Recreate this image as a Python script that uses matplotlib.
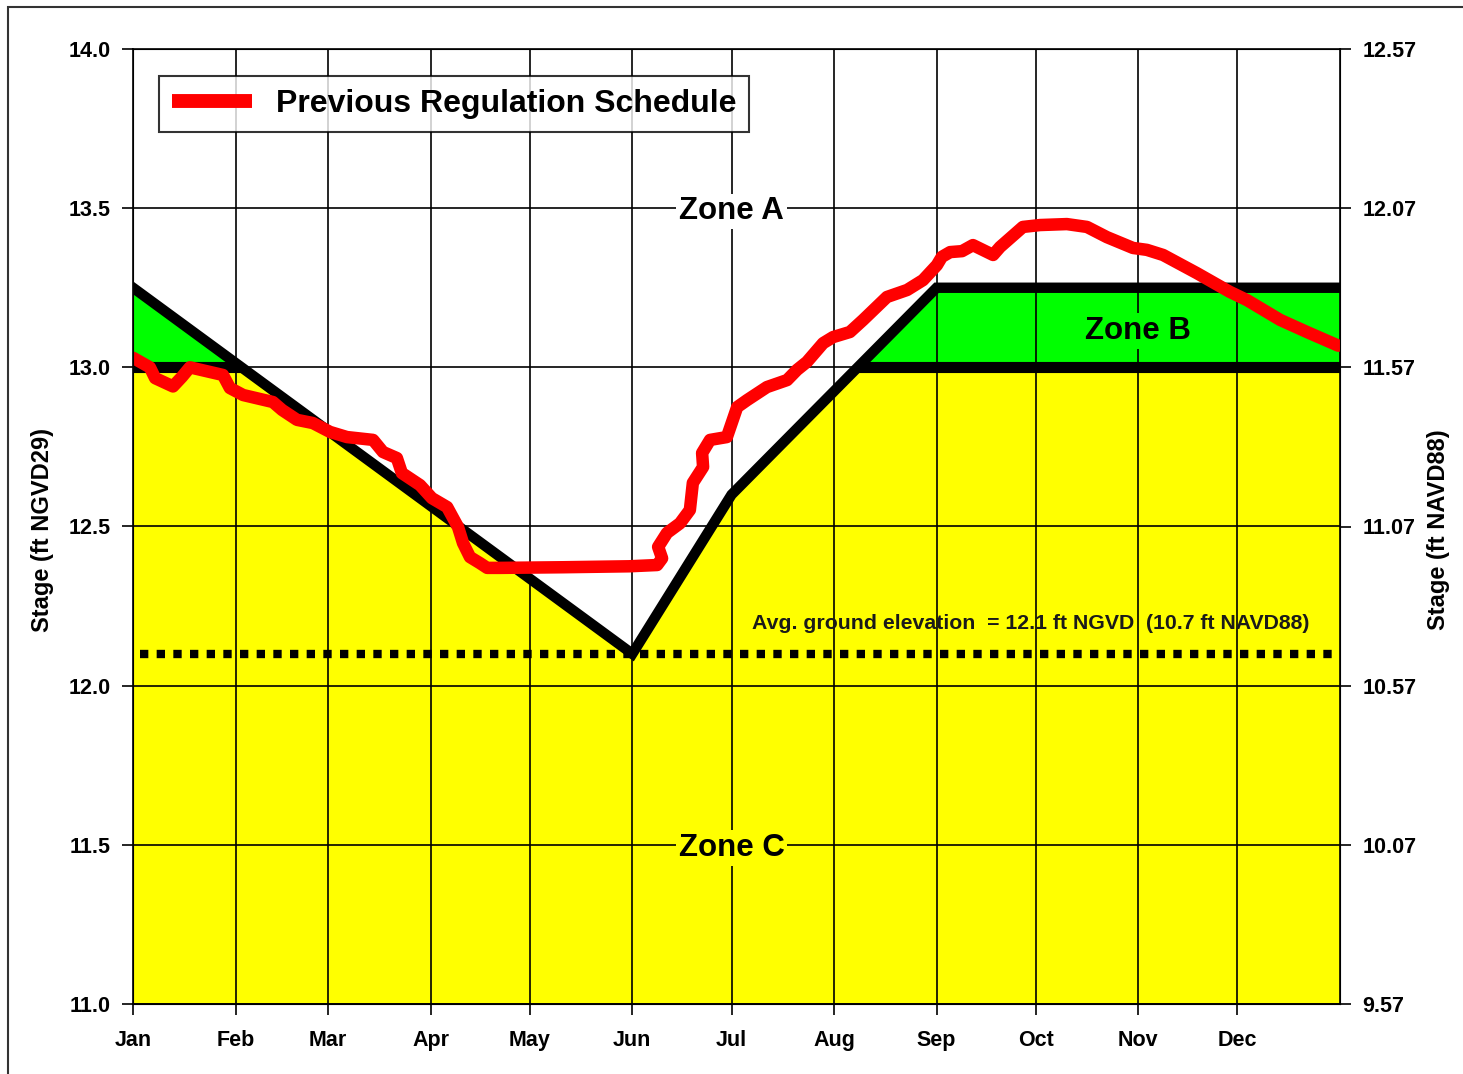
import matplotlib
matplotlib.use('Agg')
import matplotlib.pyplot as plt
from matplotlib.patches import Rectangle
import numpy as np

plt.rcParams['font.family'] = ['Liberation Sans', 'DejaVu Sans']
plt.rcParams['font.weight'] = 'bold'

# Data
months = ['Jan', 'Feb', 'Mar', 'Apr', 'May', 'Jun', 'Jul', 'Aug', 'Sep', 'Oct', 'Nov', 'Dec']
month_days = [0, 31, 59, 90, 120, 151, 181, 212, 243, 273, 304, 334]

# upper line of zone B (regulation schedule break points)
rule_days = [0, 151, 181, 243, 365]
rule_stage = [13.25, 12.1, 12.6, 13.25, 13.25]
zone_b_floor = 13.0
ground_elev = 12.1
navd_offset = 1.43

# previous regulation schedule (red)
prev_days = [0, 5.1, 6.7, 12.1, 14.8, 17.2, 27.2, 29.3, 33.3, 42.3, 45.1, 49.6, 54.4,
             59.6, 64.7, 72.6, 75.6, 79.8, 81.3, 86.8, 90.4, 95.0, 98.3, 99.8, 101.9,
             104.9, 107.1, 111, 130, 150, 158.5, 160.0, 158.8, 161.5, 165.4, 168.4,
             169.3, 172.4, 172.1, 174.5, 179.6, 182.7, 185.7, 191.7, 197.8, 200.8,
             203.8, 208.7, 211.7, 216.8, 220.8, 228.0, 234.1, 238.9, 243.1, 244.6,
             247.1, 250.7, 254.0, 260.1, 262.2, 269.1, 274.3, 282.4, 288.5, 294.5,
             302.4, 306.6, 311.5, 321.7, 331.7, 336.9, 346.9, 355.0, 364.5]
prev_stage = [13.03, 13.0, 12.966, 12.94, 12.97, 13.0, 12.976, 12.935, 12.913, 12.891,
              12.866, 12.835, 12.825, 12.797, 12.781, 12.772, 12.734, 12.715, 12.668,
              12.63, 12.589, 12.561, 12.498, 12.448, 12.404, 12.385, 12.37, 12.37,
              12.372, 12.375, 12.379, 12.40, 12.436, 12.48, 12.51, 12.552, 12.637,
              12.687, 12.731, 12.772, 12.781, 12.875, 12.897, 12.938, 12.96, 12.992,
              13.017, 13.076, 13.095, 13.111, 13.149, 13.221, 13.243, 13.274, 13.321,
              13.347, 13.362, 13.365, 13.384, 13.353, 13.378, 13.441, 13.447, 13.45,
              13.441, 13.409, 13.375, 13.369, 13.353, 13.296, 13.237, 13.211, 13.149,
              13.111, 13.068]

fig = plt.figure(figsize=(14.63, 10.74), dpi=100)
ax = fig.add_axes([133 / 1463, 1 - 1004 / 1074, 1207 / 1463, 955 / 1074])

# outer frame
fig.patches.append(Rectangle((8 / 1463, -0.05), 1.1, 1 - 7 / 1074 + 0.05,
                             transform=fig.transFigure, fill=False,
                             edgecolor='#333333', linewidth=1.5, clip_on=False))

# zones
d = np.linspace(0, 365, 1461)
rule = np.interp(d, rule_days, rule_stage)
ax.fill_between(d, 11.0, np.minimum(rule, zone_b_floor), color='#ffff00', lw=0, zorder=1)
ax.fill_between(d, zone_b_floor, rule, where=rule >= zone_b_floor, color='#00ff00',
                lw=0, zorder=1, interpolate=True)

# grid
for m in month_days:
    ax.axvline(m, color='black', lw=1.2, zorder=2)
for s in np.arange(11.0, 14.01, 0.5):
    ax.axhline(s, color='black', lw=1.2, zorder=2)

# zone boundaries
ax.plot(rule_days, rule_stage, color='black', lw=7.5, solid_joinstyle='miter', zorder=3)
ax.plot([0, 33], [zone_b_floor, zone_b_floor], color='black', lw=8, solid_capstyle='butt', zorder=3)
ax.plot([219, 365], [zone_b_floor, zone_b_floor], color='black', lw=8, solid_capstyle='butt', zorder=3)

# ground elevation
ax.plot([2, 364], [ground_elev, ground_elev], color='black', lw=6, dashes=(1, 1),
        dash_capstyle='butt', zorder=3)
ax.text(271.5, 12.195, 'Avg. ground elevation  = 12.1 ft NGVD  (10.7 ft NAVD88)',
        ha='center', va='center', fontsize=15.3, fontweight='bold', color='#1a1a1a', zorder=5)

# previous schedule
ax.plot(prev_days, prev_stage, color='#ff0000', lw=9, solid_capstyle='round',
        solid_joinstyle='round', zorder=4, label='Previous Regulation Schedule')

# zone labels
ax.text(181, 13.49, 'Zone A', ha='center', va='center', fontsize=22.5, fontweight='bold',
        zorder=5, bbox=dict(facecolor='white', edgecolor='none', pad=2))
ax.text(304, 13.115, 'Zone B', ha='center', va='center', fontsize=22.5, fontweight='bold',
        zorder=5, bbox=dict(facecolor='#00ff00', edgecolor='none', pad=2))
ax.text(181, 11.49, 'Zone C', ha='center', va='center', fontsize=22.5, fontweight='bold',
        zorder=5, bbox=dict(facecolor='#ffff00', edgecolor='none', pad=2))

ax.set_xlim(0, 365)
ax.set_ylim(11.0, 14.0)
ax.set_xticks(month_days)
ax.set_xticklabels(months)
ax.set_yticks(np.arange(11.0, 14.01, 0.5))
ax.set_yticklabels(['%.1f' % v for v in np.arange(11.0, 14.01, 0.5)])
ax.tick_params(axis='both', direction='out', length=8, width=1.2, labelsize=15.5, pad=8)
ax.tick_params(axis='x', pad=11)
for sp in ax.spines.values():
    sp.set_linewidth(1.2)

ax2 = ax.twinx()
ax2.set_ylim(11.0 - navd_offset, 14.0 - navd_offset)
r_ticks = np.arange(11.0, 14.01, 0.5) - navd_offset
ax2.set_yticks(r_ticks)
ax2.set_yticklabels(['%.2f' % v for v in r_ticks])
ax2.tick_params(axis='y', direction='out', length=8, width=1.2, labelsize=15.5, pad=8)

fig.text(43 / 1463, 1 - 530 / 1074, 'Stage (ft NGVD29)', rotation=90, ha='center',
         va='center', fontsize=17, fontweight='bold')
fig.text(1439 / 1463, 1 - 530 / 1074, 'Stage (ft NAVD88)', rotation=90, ha='center',
         va='center', fontsize=17, fontweight='bold')

leg = ax.legend(loc='upper left', bbox_to_anchor=(26 / 1207, 1 - 27 / 955), fontsize=23,
                frameon=True, fancybox=False, handlelength=2.5, handletextpad=0.75,
                borderpad=0.4, borderaxespad=0)
leg.get_frame().set_edgecolor('black')
leg.get_frame().set_linewidth(1.5)
leg.get_lines()[0].set_linewidth(10)
leg.get_lines()[0].set_solid_capstyle('butt')
leg.set_zorder(6)

fig.savefig('out.png', dpi=100)
plt.close(fig)
